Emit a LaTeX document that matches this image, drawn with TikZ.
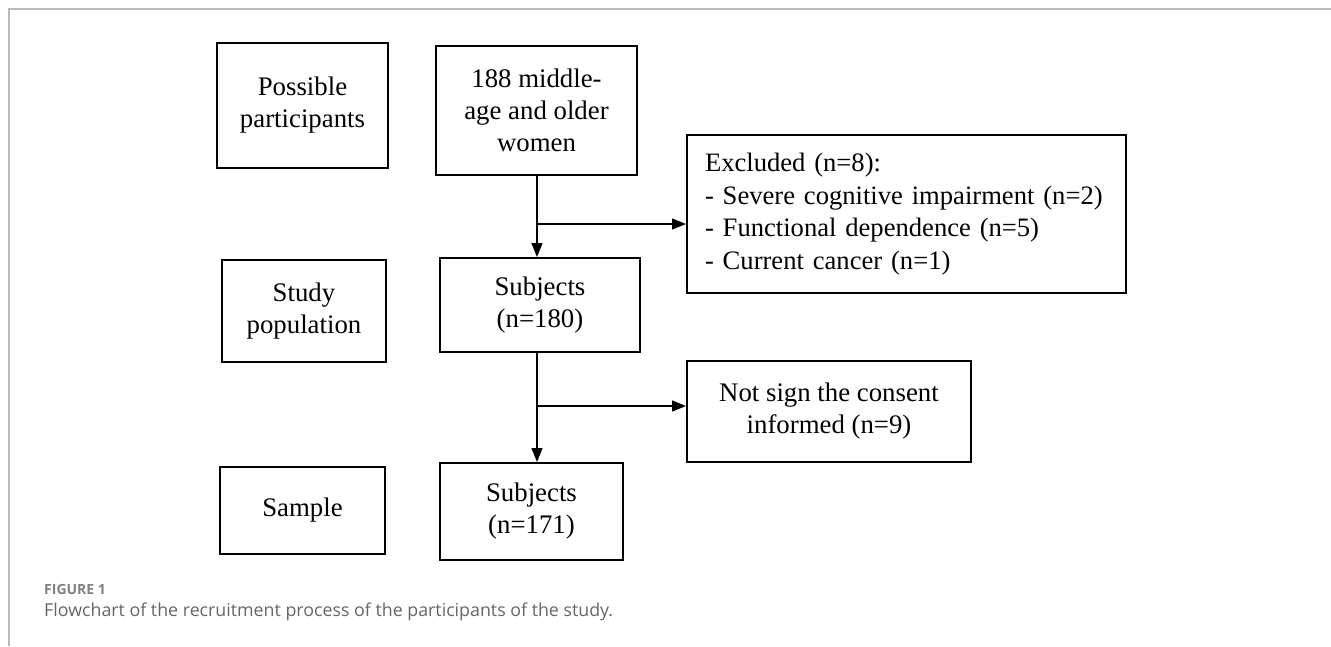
\documentclass[tikz,border=0pt]{standalone}
\usepackage{fontspec}
\setmainfont{Liberation Serif}
\newfontfamily\capfont{Open Sans}
\usetikzlibrary{arrows.meta}
\definecolor{framegray}{HTML}{BBBBBB}
\definecolor{capgray}{HTML}{666666}
\definecolor{figgray}{HTML}{808080}
\begin{document}
\begin{tikzpicture}[x=1pt,y=-1pt,
  box/.style={draw=black,line width=2pt,inner sep=0pt,align=center,
    font=\fontsize{26.8}{32}\selectfont},
  arr/.style={line width=1.3pt,-{Triangle[length=14pt,width=11pt]}}]
\useasboundingbox (0,0) rectangle (1331,646);
% frame
\draw[framegray,line width=1.5pt] (1331,9) -- (9,9) -- (9,646);
% nodes
\node[box,minimum width=171pt,minimum height=125pt] (pp) at (302.5,105.5) {Possible\\participants};
\node[box,minimum width=201pt,minimum height=129pt] (women) at (536.5,110.5) {188 middle-\\age and older\\women};
\node[box,minimum width=439pt,minimum height=158pt,align=left,text width=403pt,inner xsep=18pt,
  font=\fontsize{26.6}{32.5}\selectfont] (excl) at (906.5,214)
  {Excluded (n=8):\\- Severe cognitive impairment (n=2)\\- Functional dependence (n=5)\\- Current cancer (n=1)};
\node[box,minimum width=164pt,minimum height=102pt] (sp) at (304,311) {Study\\population};
\node[box,minimum width=200pt,minimum height=94pt] (s180) at (540,305) {Subjects\\(n=180)};
\node[box,minimum width=284pt,minimum height=101pt] (ns) at (829,411.5) {Not sign the consent\\informed (n=9)};
\node[box,minimum width=165pt,minimum height=87pt] (sample) at (302.5,510.5) {Sample};
\node[box,minimum width=183pt,minimum height=97pt] (s171) at (531.5,511.5) {Subjects\\(n=171)};
% connectors
\coordinate (b1) at (537,224);
\coordinate (b2) at (537,406);
\draw[arr] (b1 |- women.south) -- (b1 |- s180.north);
\draw[arr] (b1) -- (b1 -| excl.west);
\draw[arr] (b2 |- s180.south) -- (b2 |- s171.north);
\draw[arr] (b2) -- (b2 -| ns.west);
% caption
\node[anchor=west,inner sep=0pt,font=\capfont\bfseries\fontsize{14}{17}\selectfont,text=figgray] (fig) at (44,589) {FIGURE 1};
\node[anchor=west,inner sep=0pt,font=\capfont\fontsize{17.8}{21}\selectfont,text=capgray] (cap) at (44,612) {Flowchart of the recruitment process of the participants of the study.};
\end{tikzpicture}
\end{document}
